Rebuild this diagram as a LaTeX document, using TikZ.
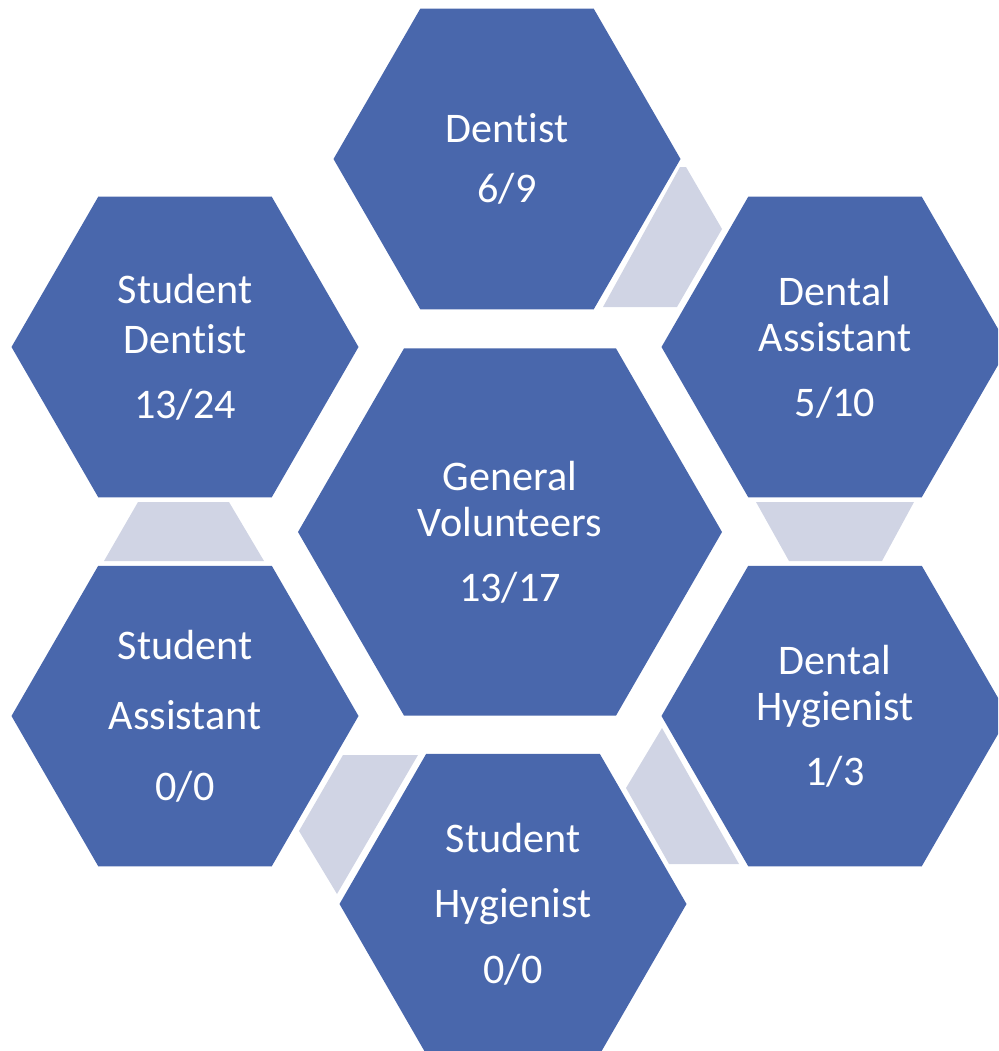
\documentclass[tikz,border=0pt]{standalone}
\usepackage{fontspec}
\setmainfont{Carlito}[Ligatures=NoCommon]
\definecolor{hexblue}{RGB}{73,103,172}
\definecolor{linkgrey}{RGB}{208,212,228}

\begin{document}
\begin{tikzpicture}[x=0.02cm,y=-0.02cm,
    hextext/.style={text=white,align=center,inner sep=0pt,
      font=\fontsize{24pt}{26.2pt}\selectfont}]
  \def\r{173.5};  % outer hexagons
  \def\R{212};  % middle hexagon
  \useasboundingbox (0,0) rectangle (998,1051);
  \clip (0,0) rectangle (998,1051);
  % hexagons
  \fill[hexblue] (510,532) +(0:\R)--+(60:\R)--+(120:\R)--+(180:\R)--+(240:\R)--+(300:\R)--cycle;
  \fill[hexblue] (507,159) +(0:\r)--+(60:\r)--+(120:\r)--+(180:\r)--+(240:\r)--+(300:\r)--cycle;
  \fill[hexblue] (835,347) +(0:\r)--+(60:\r)--+(120:\r)--+(180:\r)--+(240:\r)--+(300:\r)--cycle;
  \fill[hexblue] (835,716) +(0:\r)--+(60:\r)--+(120:\r)--+(180:\r)--+(240:\r)--+(300:\r)--cycle;
  \fill[hexblue] (513,904) +(0:\r)--+(60:\r)--+(120:\r)--+(180:\r)--+(240:\r)--+(300:\r)--cycle;
  \fill[hexblue] (185,716) +(0:\r)--+(60:\r)--+(120:\r)--+(180:\r)--+(240:\r)--+(300:\r)--cycle;
  \fill[hexblue] (185,347) +(0:\r)--+(60:\r)--+(120:\r)--+(180:\r)--+(240:\r)--+(300:\r)--cycle;
  % grey links between the outer ones
  \fill[linkgrey] (603,307)--(680,167)--(686,167)--(722,229)--(677,307)--cycle;
  \fill[linkgrey] (756,502)--(914,502)--(882,561)--(789,561)--cycle;
  \fill[linkgrey] (662,728)--(739,864)--(669,864)--(626,788)--cycle;
  \fill[linkgrey] (343,755)--(418,755)--(337,894)--(299,831)--cycle;
  \fill[linkgrey] (138,502)--(229,502)--(264,561)--(104,561)--cycle;
  % texts
  \node[hextext] (general) at (510,532) {General\\Volunteers\\[10.8pt]13/17};
  \node[hextext] (dentist) at (507,159) {Dentist\\[8pt]6/9};
  \node[hextext] (dentalassist) at (835,347) {Dental\\Assistant\\[10.8pt]5/10};
  \node[hextext] (dentalhyg) at (835,716) {Dental\\Hygienist\\[10.8pt]1/3};
  \node[hextext] (studenthyg) at (513,904) {Student\\[11pt]Hygienist\\[11pt]0/0};
  \node[hextext] (studentassist) at (185,716) {Student\\[14pt]Assistant\\[14pt]0/0};
  \node[hextext] (studentdent) at (185,347) {Student\\[2.5pt]Dentist\\[10.8pt]13/24};
\end{tikzpicture}
\end{document}
